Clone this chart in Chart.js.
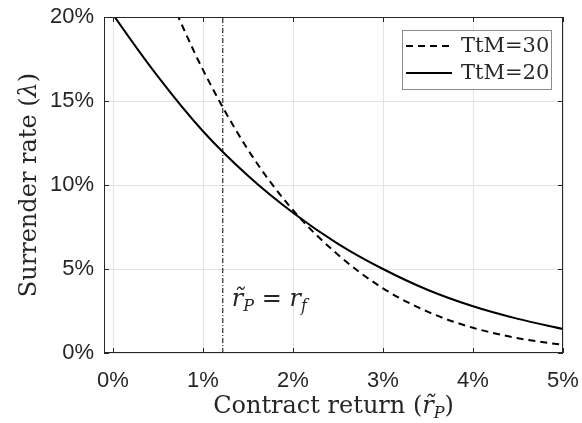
<!DOCTYPE html>
<html>
<head>
<meta charset="utf-8">
<script src="https://cdn.jsdelivr.net/npm/chart.js@4/dist/chart.umd.min.js"></script>
<style>
  html, body { margin: 0; padding: 0; background: #fff; }
  #wrap { width: 582px; height: 423px; position: relative; }
</style>
</head>
<body>
<div id="wrap"><canvas id="surrenderChart"></canvas></div>
<script>
// contract return in %, surrender rate in %
const ttm20Return = [-0.1, 0, 0.5, 1.0, 1.5, 2.0, 2.5, 3.0, 3.5, 4.0, 4.5, 5.0];
const ttm20Rate   = [20.95, 20.15, 16.45, 13.2, 10.55, 8.35, 6.5, 5.0, 3.75, 2.78, 2.03, 1.43];

const ttm30Return = [0.6, 1.0, 1.5, 2.0, 2.5, 3.0, 3.5, 4.0, 4.5, 5.0];
const ttm30Rate   = [21.5, 16.85, 12.1, 8.5, 5.85, 3.85, 2.45, 1.5, 0.88, 0.48];

const riskFreeRate = 1.22;
const xTicks = [0, 1, 2, 3, 4, 5];
const yTicks = [0, 5, 10, 15, 20];

const seriesLabels = ['TtM=30', 'TtM=20'];

const TEXT = '#262626';
const SERIF = '"DejaVu Serif", serif';
const SANS = '"Liberation Sans", Arial, sans-serif';

function toPoints(xs, ys) {
    return xs.map((x, i) => ({ x: x, y: ys[i] }));
}

// text made of several font runs
function richWidth(ctx, parts) {
    let w = 0;
    parts.forEach(p => { ctx.font = p.font; w += ctx.measureText(p.t).width; });
    return w;
}
function drawRich(ctx, parts, x, y) {
    let cx = x;
    parts.forEach(p => {
        ctx.font = p.font;
        ctx.fillText(p.t, cx, y + (p.dy || 0));
        cx += ctx.measureText(p.t).width;
    });
}

function noPad(s) {
    s.paddingLeft = 0; s.paddingRight = 0; s.paddingTop = 0; s.paddingBottom = 0;
}

const framePlugin = {
    id: 'frame',
    beforeDraw(chart) {
        const ctx = chart.ctx;
        ctx.save();
        ctx.fillStyle = '#fff';
        ctx.fillRect(0, 0, chart.width, chart.height);
        ctx.restore();
    },
    afterDatasetsDraw(chart) {
        const { ctx, chartArea: a, scales: { x, y } } = chart;
        ctx.save();

        // axes box
        ctx.strokeStyle = TEXT;
        ctx.lineWidth = 1;
        ctx.strokeRect(a.left + 0.5, a.top + 0.5, a.right - a.left - 1, a.bottom - a.top - 1);

        // inward ticks on all four sides
        ctx.beginPath();
        xTicks.forEach(v => {
            const px = Math.round(x.getPixelForValue(v)) + 0.5;
            ctx.moveTo(px, a.bottom); ctx.lineTo(px, a.bottom - 5);
            ctx.moveTo(px, a.top); ctx.lineTo(px, a.top + 5);
        });
        yTicks.forEach(v => {
            const py = Math.round(y.getPixelForValue(v)) + 0.5;
            ctx.moveTo(a.left, py); ctx.lineTo(a.left + 5, py);
            ctx.moveTo(a.right, py); ctx.lineTo(a.right - 5, py);
        });
        ctx.stroke();

        const rm = '24px ' + SERIF;
        const it = 'italic 24px ' + SERIF;
        const sub = 'italic 16px ' + SERIF;

        // r_P = r_f label
        ctx.fillStyle = TEXT;
        ctx.textBaseline = 'alphabetic';
        drawRich(ctx, [
            { t: 'r\u0303', font: it },
            { t: 'P', font: sub, dy: 5 },
            { t: ' = ', font: rm },
            { t: 'r', font: it },
            { t: 'f', font: sub, dy: 5 }
        ], x.getPixelForValue(riskFreeRate) + 9, 306);

        // legend
        const lx = 402, ly = 30, lw = 149, lh = 59;
        ctx.fillStyle = '#fff';
        ctx.fillRect(lx, ly, lw, lh);
        ctx.strokeStyle = '#8c8c8c';
        ctx.lineWidth = 1;
        ctx.strokeRect(lx + 0.5, ly + 0.5, lw, lh);
        const ds = chart.data.datasets;
        [0, 1].forEach(i => {
            const yy = ly + 16 + i * 27;
            ctx.strokeStyle = ds[i].borderColor;
            ctx.lineWidth = ds[i].borderWidth;
            ctx.setLineDash(ds[i].borderDash || []);
            ctx.beginPath();
            ctx.moveTo(lx + 4, yy);
            ctx.lineTo(lx + 50, yy);
            ctx.stroke();
            ctx.setLineDash([]);
            ctx.fillStyle = TEXT;
            ctx.font = '21px ' + SERIF;
            ctx.textBaseline = 'middle';
            ctx.fillText(ds[i].label, lx + 59, yy + 1);
        });

        // axis titles
        ctx.fillStyle = TEXT;
        ctx.textBaseline = 'alphabetic';
        const xParts = [
            { t: 'Contract return (', font: rm },
            { t: 'r\u0303', font: it },
            { t: 'P', font: sub, dy: 5 },
            { t: ')', font: rm }
        ];
        const xw = richWidth(ctx, xParts);
        drawRich(ctx, xParts, (a.left + a.right) / 2 - xw / 2, 413);

        const yParts = [
            { t: 'Surrender rate (', font: rm },
            { t: '\u03bb', font: it },
            { t: ')', font: rm }
        ];
        const yw = richWidth(ctx, yParts);
        ctx.translate(36, (a.top + a.bottom) / 2);
        ctx.rotate(-Math.PI / 2);
        drawRich(ctx, yParts, -yw / 2, 0);

        ctx.restore();
    }
};

const ctx = document.getElementById('surrenderChart').getContext('2d');
new Chart(ctx, {
    type: 'line',
    data: {
        datasets: [
            {
                label: seriesLabels[0],
                data: toPoints(ttm30Return, ttm30Rate),
                borderColor: '#000',
                borderWidth: 2,
                borderDash: [7, 5],
                pointRadius: 0,
                cubicInterpolationMode: 'monotone',
                fill: false
            },
            {
                label: seriesLabels[1],
                data: toPoints(ttm20Return, ttm20Rate),
                borderColor: '#000',
                borderWidth: 2,
                pointRadius: 0,
                cubicInterpolationMode: 'monotone',
                fill: false
            },
            {
                label: 'rf',
                data: [{ x: riskFreeRate, y: 0 }, { x: riskFreeRate, y: 20 }],
                borderColor: '#000',
                borderWidth: 1,
                borderDash: [5, 2, 1, 2],
                pointRadius: 0,
                fill: false
            }
        ]
    },
    options: {
        responsive: true,
        maintainAspectRatio: false,
        animation: false,
        layout: { padding: { top: 17, right: 19, left: 0, bottom: 0 } },
        plugins: {
            legend: { display: false },
            tooltip: { enabled: false }
        },
        scales: {
            x: {
                type: 'linear',
                min: -0.1,
                max: 5,
                afterBuildTicks: s => { s.ticks = xTicks.map(v => ({ value: v })); },
                afterFit: s => { s.height = 70; noPad(s); },
                grid: { color: '#e3e3e3', drawTicks: false },
                border: { display: false },
                ticks: {
                    color: TEXT,
                    font: { family: SANS, size: 22 },
                    padding: 15,
                    maxRotation: 0,
                    callback: v => v + '%'
                }
            },
            y: {
                type: 'linear',
                min: 0,
                max: 20,
                afterBuildTicks: s => { s.ticks = yTicks.map(v => ({ value: v })); },
                afterFit: s => { s.width = 104; noPad(s); },
                grid: { color: '#e3e3e3', drawTicks: false },
                border: { display: false },
                ticks: {
                    color: TEXT,
                    font: { family: SANS, size: 22 },
                    padding: 10,
                    callback: v => v + '%'
                }
            }
        }
    },
    plugins: [framePlugin]
});
</script>
</body>
</html>
